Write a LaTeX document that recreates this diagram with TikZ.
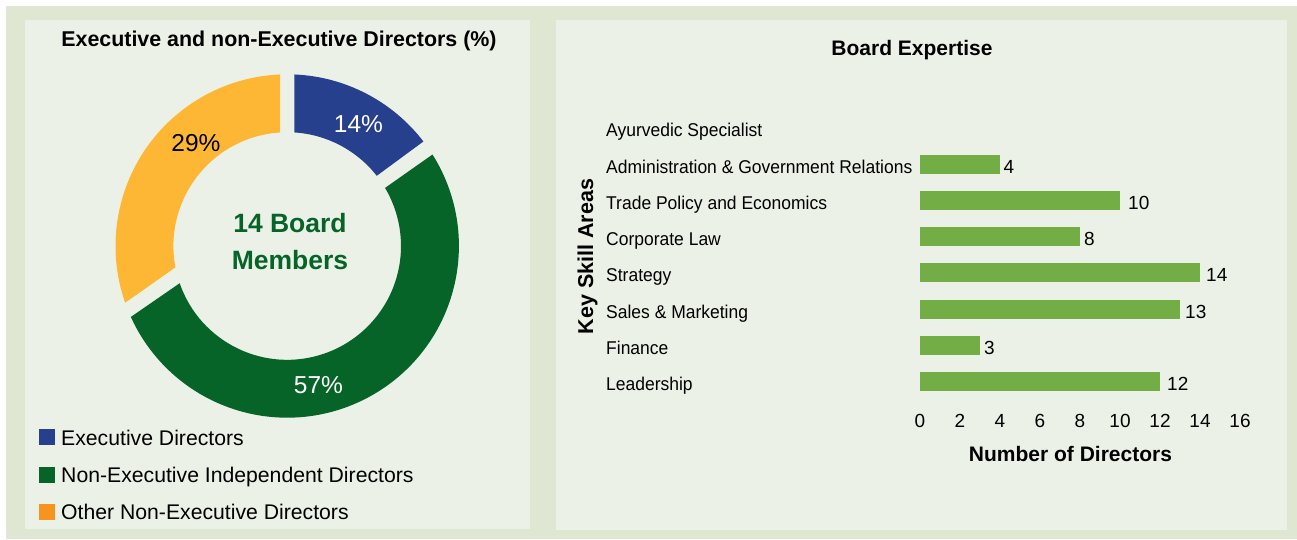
\documentclass[tikz,border=0pt]{standalone}
\usepackage{fontspec}
\setmainfont{Liberation Sans}
\newfontfamily\narrowfont[FakeStretch=0.945]{Liberation Sans}
\definecolor{outerbg}{HTML}{DFE7D3}
\definecolor{panelbg}{HTML}{ECF1E7}
\definecolor{cblue}{HTML}{27408E}
\definecolor{cgreen}{HTML}{066428}
\definecolor{corange}{HTML}{FDB734}
\definecolor{lorange}{HTML}{F7941E}
\definecolor{barg}{HTML}{72AE45}
\begin{document}
\begin{tikzpicture}[x=1pt,y=-1pt,
  ttl/.style={font=\fontsize{21}{25}\selectfont\bfseries, anchor=base, inner sep=0pt},
  cat/.style={font=\narrowfont\fontsize{18.5}{22}\selectfont, anchor=base west, inner sep=0pt},
  val/.style={font=\fontsize{19}{22}\selectfont, anchor=base west, inner sep=0pt},
  tck/.style={font=\fontsize{19}{22}\selectfont, anchor=base, inner sep=0pt},
  leg/.style={font=\fontsize{21.2}{24}\selectfont, anchor=base west, inner sep=0pt},
  pct/.style={font=\fontsize{24.5}{28}\selectfont, anchor=base, inner sep=0pt},
  ctr/.style={font=\fontsize{26.5}{30}\selectfont\bfseries, text=cgreen, anchor=base, inner sep=0pt},
  bar/.style={fill=barg},
  sq/.style={minimum size=16pt, inner sep=0pt, anchor=north west}
]
\useasboundingbox (0,0) rectangle (1297,539);
\fill[white] (0,0) rectangle (1297,539);
\fill[outerbg] (6,6) rectangle (1297,539);
\fill[panelbg] (25,20) rectangle (530,529);
\fill[panelbg] (556,20) rectangle (1287,530);

% ---------- left panel ----------
\node[ttl, font=\fontsize{21.4}{25}\selectfont\bfseries] (ltitle) at (279,46) {Executive and non-Executive Directors (\%)};

\begin{scope}[shift={(287.2,246)}, yscale=-1]
  \fill[cblue] (87.6:171.7) arc[start angle=87.6, end angle=37.5, radius=171.7]
     -- (38.1:113.8) arc[start angle=38.1, end angle=86.4, radius=113.8] -- cycle;
  \fill[cgreen] (32.2:171.7) arc[start angle=32.2, end angle=-155.6, radius=171.7]
     -- (-160.9:113.8) arc[start angle=-160.9, end angle=30.7, radius=113.8] -- cycle;
  \fill[corange] (92.4:171.7) arc[start angle=92.4, end angle=199.3, radius=171.7]
     -- (190.8:113.8) arc[start angle=190.8, end angle=93.6, radius=113.8] -- cycle;
\end{scope}

\node[pct, text=white] (p14) at (358.5,132) {14\%};
\node[pct, text=black] (p29) at (196,151) {29\%};
\node[pct, text=white] (p57) at (318.5,393) {57\%};
\node[ctr] (c1) at (290,232) {14 Board};
\node[ctr] (c2) at (290,269) {Members};

\node[sq, fill=cblue] (s1) at (39,429) {};
\node[sq, fill=cgreen] (s2) at (39,467) {};
\node[sq, fill=lorange] (s3) at (39,504) {};
\node[leg] (l1) at (61,445) {Executive Directors};
\node[leg] (l2) at (61,482) {Non-Executive Independent Directors};
\node[leg] (l3) at (61,519) {Other Non-Executive Directors};

% ---------- right panel ----------
\node[ttl] (rtitle) at (912,55) {Board Expertise};
\node[ttl, rotate=90, font=\fontsize{21.5}{25}\selectfont\bfseries] (yax) at (593,256.5) {Key Skill Areas};
\node[ttl] (xax) at (1070.5,461.5) {Number of Directors};

\foreach \lab [count=\i from 0] in {Ayurvedic Specialist,Administration \& Government Relations,Trade Policy and Economics,Corporate Law,Strategy,Sales \& Marketing,Finance,Leadership}
  \node[cat] (cat\i) at (606,{136.7+36.3*\i}) {\lab};

\foreach \v/\off [count=\i] in {4/3.5,10/8,8/4,14/6,13/5,3/4,12/7} {
  \fill[bar] (920,{164+36.3*(\i-1)-9.5}) rectangle ({920+20*\v},{164+36.3*(\i-1)+9.5});
  \node[val] (v\i) at ({920+20*\v+\off},{173+36.3*(\i-1)}) {\v};
}

\foreach \t in {0,2,...,16}
  \node[tck] (t\t) at ({920+20*\t},427) {\t};
\end{tikzpicture}
\end{document}
